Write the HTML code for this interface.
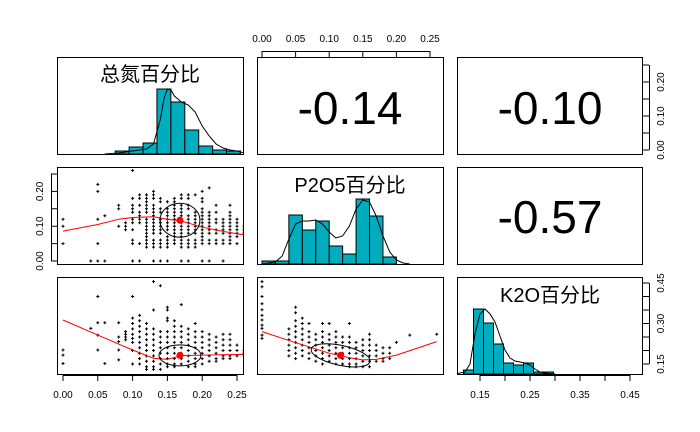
<!DOCTYPE html>
<html><head><meta charset="utf-8"><style>
html,body{margin:0;padding:0;background:#fff}
svg{display:block;font-family:"Liberation Sans","Noto Sans CJK SC",sans-serif}
</style></head><body>
<svg id="c" width="700" height="432" viewBox="0 0 700 432"></svg>
<script>
// ---------- data ----------
const varNames = ["总氮百分比","P2O5百分比","K2O百分比"];
const corrValues = ["-0.14","-0.10","-0.57"];
const nBreaks = [0.075,0.095,0.115,0.135,0.155,0.175,0.195,0.215,0.235,0.255];
const nCounts = [3,7,11,65,52,24,8,4,3];
const nDensX = [0.06,0.08,0.10,0.12,0.13,0.14,0.145,0.15,0.155,0.16,0.17,0.18,0.19,0.20,0.21,0.22,0.23,0.24,0.25,0.26];
const nDensY = [0,1,3,5,10,35,55,65,64,58,52,49,42,28,18,10,6,4,3,1];
const pBreaks = [0,0.02,0.04,0.06,0.08,0.10,0.12,0.14,0.16,0.18,0.20];
const pCounts = [3,3,49,34,43,18,10,65,48,7];
const pDensX = [0,0.02,0.03,0.04,0.05,0.06,0.07,0.08,0.09,0.10,0.11,0.12,0.13,0.14,0.15,0.16,0.17,0.18,0.19,0.20,0.21,0.22];
const pDensY = [0,2,8,25,40,43,43,44,40,32,26,28,38,55,64,62,48,28,12,4,1,0];
const kBreaks = [0.117,0.137,0.157,0.177,0.197,0.217,0.237,0.257,0.277,0.297];
const kCounts = [4,65,51,30,11,9,11,2,2];
const kDensX = [0.10,0.12,0.13,0.14,0.15,0.16,0.17,0.18,0.19,0.20,0.21,0.22,0.23,0.24,0.25,0.26,0.27,0.28,0.30];
const kDensY = [0,2,10,40,60,65,60,52,38,24,16,13,12,11,9,5,2,1,0];
const npCols = [
[0.00,[0.12,0.10,0.05]],[0.04,[0]],[0.05,[0.22,0.20,0.12,0.05,0]],[0.06,[0.13,0]],
[0.08,[0.16,0.15,0.10]],[0.09,[0.11,0.10,0.09]],
[0.10,[0.26,0.18,0.16,0.15,0.14,0.12,0.11,0.09,0.06,0.05,0]],
[0.11,[0.19,0.18,0.16,0.14,0.13,0.12,0.11,0.05,0]],
[0.12,[0.19,0.18,0.17,0.16,0.15,0.14,0.12,0.11,0.10,0.09,0.08,0.07,0.06,0.05,0.04]],
[0.13,[0.20,0.19,0.18,0.16,0.15,0.14,0.13,0.12,0.11,0.10,0.09,0.08,0.06,0.05,0.04,0]],
[0.14,[0.18,0.17,0.15,0.14,0.12,0.11,0.10,0.09,0.08,0.06,0.05,0.04,0]],
[0.15,[0.17,0.15,0.14,0.13,0.12,0.11,0.10,0.09,0.07,0.06,0.05,0.04,0]],
[0.16,[0.18,0.17,0.16,0.15,0.14,0.13,0.12,0.11,0.10,0.09,0.08,0.07,0.06,0.05]],
[0.17,[0.19,0.18,0.16,0.15,0.14,0.13,0.12,0.11,0.10,0.09,0.08,0.07,0.06,0.05,0.04,0]],
[0.18,[0.19,0.18,0.16,0.15,0.13,0.12,0.11,0.10,0.09,0.08,0.06,0.05,0.04,0]],
[0.19,[0.19,0.14,0.13,0.12,0.11,0.10,0.09,0.08,0.06,0.05,0.04]],
[0.20,[0.20,0.18,0.17,0.15,0.14,0.13,0.12,0.11,0.10,0.09,0.08,0.07,0.06,0.05,0]],
[0.21,[0.21,0.14,0.13,0.12,0.11,0.10,0.09,0.08,0.06,0.05,0]],
[0.22,[0.16,0.14,0.12,0.11,0.09,0.08,0.06,0.05]],
[0.23,[0.12,0.11,0.10,0.09,0.08,0.06,0.05,0]],
[0.24,[0.16,0.14,0.13,0.12,0.11,0.10,0.09,0.08,0.07,0.06,0.05]],
[0.25,[0.12,0.11,0.10,0.09,0.08,0.07,0.05]],[0.26,[0.10,0.09,0.08]]];
const npLoessX = [0,0.05,0.08,0.10,0.13,0.15,0.17,0.20,0.23,0.26];
const npLoessY = [0.086,0.105,0.12,0.125,0.127,0.12,0.115,0.097,0.085,0.075];
const npMean = [0.168,0.117];
const nkCols = [
[0.00,[0.202,0.183,0.152]],[0.04,[0.282]],[0.05,[0.40,0.303,0.257,0.202]],[0.06,[0.303,0.152]],
[0.08,[0.303,0.25,0.233,0.202,0.165]],[0.09,[0.27,0.26,0.25,0.24]],
[0.10,[0.40,0.32,0.30,0.28,0.26,0.245,0.23,0.20,0.15]],
[0.11,[0.33,0.31,0.29,0.27,0.25,0.23,0.21,0.19,0.17,0.15]],
[0.12,[0.30,0.28,0.26,0.24,0.22,0.20,0.18,0.16,0.14,0.13]],
[0.13,[0.455,0.35,0.28,0.26,0.24,0.22,0.20,0.18,0.16,0.14,0.13]],
[0.14,[0.44,0.27,0.25,0.23,0.21,0.19,0.17,0.15,0.13]],
[0.15,[0.36,0.35,0.32,0.31,0.27,0.25,0.23,0.21,0.19,0.17,0.15,0.14]],
[0.16,[0.31,0.29,0.27,0.25,0.23,0.21,0.19,0.17,0.15,0.14]],
[0.17,[0.37,0.29,0.27,0.25,0.23,0.21,0.19,0.17,0.15]],
[0.18,[0.28,0.26,0.24,0.22,0.20,0.18,0.16,0.14]],
[0.19,[0.30,0.27,0.25,0.23,0.21,0.19,0.17,0.15,0.14]],
[0.20,[0.27,0.25,0.23,0.21,0.19,0.17,0.15]],
[0.21,[0.26,0.24,0.22,0.20,0.18,0.16]],
[0.22,[0.25,0.23,0.21,0.19,0.17,0.16]],
[0.23,[0.26,0.24,0.22,0.20,0.18,0.17]],
[0.24,[0.26,0.24,0.22,0.20,0.18,0.17]],
[0.25,[0.22,0.20,0.18]],[0.26,[0.20,0.19,0.18]]];
const nkLoessX = [0,0.05,0.10,0.13,0.15,0.17,0.20,0.26];
const nkLoessY = [0.313,0.257,0.202,0.171,0.167,0.181,0.183,0.186];
const nkMean = [0.168,0.182];
const pkCols = [
[0.00,[0.455,0.436,0.40,0.373,0.351,0.33,0.313,0.294,0.282,0.257,0.245]],
[0.04,[0.28,0.26,0.24,0.22,0.20,0.18]],
[0.05,[0.36,0.34,0.31,0.29,0.27,0.25,0.23,0.21,0.19,0.17]],
[0.06,[0.32,0.30,0.28,0.26,0.24,0.22,0.20,0.18]],
[0.07,[0.30,0.27,0.25,0.23,0.21,0.19,0.17]],
[0.08,[0.26,0.24,0.22,0.20,0.18,0.16]],
[0.09,[0.30,0.27,0.25,0.23,0.21,0.19,0.17,0.15]],
[0.10,[0.30,0.26,0.24,0.22,0.20,0.18,0.16]],
[0.11,[0.27,0.25,0.23,0.21,0.19,0.17,0.15]],
[0.12,[0.25,0.23,0.21,0.19,0.17,0.15]],
[0.13,[0.30,0.25,0.23,0.21,0.19,0.17,0.15,0.14]],
[0.14,[0.23,0.21,0.19,0.17,0.15,0.14]],
[0.15,[0.24,0.22,0.20,0.18,0.16,0.14]],
[0.16,[0.26,0.24,0.22,0.20,0.18,0.16,0.14]],
[0.17,[0.22,0.20,0.18,0.16]],[0.18,[0.21,0.19,0.17,0.16]],
[0.19,[0.21,0.19,0.17]],[0.20,[0.23]],[0.22,[0.257]],[0.26,[0.26]]];
const pkLoessX = [0,0.05,0.10,0.13,0.15,0.17,0.20,0.26];
const pkLoessY = [0.27,0.229,0.19,0.173,0.165,0.167,0.183,0.233];
const pkMean = [0.117,0.182];
const nTicks = [0,0.05,0.10,0.15,0.20,0.25];
const nTickLabels = ["0.00","0.05","0.10","0.15","0.20","0.25"];
const kTicks = [0.15,0.20,0.25,0.30,0.35,0.40,0.45];
const kBottomLabels = ["0.15","0.25","0.35","0.45"];
const kRightLabels = ["0.15","0.30","0.45"];

const svg = document.getElementById('c');
const NS = 'http://www.w3.org/2000/svg';
function mk(tag, attrs, parent){const e=document.createElementNS(NS,tag);for(const k in attrs)e.setAttribute(k,attrs[k]);(parent||svg).appendChild(e);return e;}
const cols = [[57,243],[257,443],[457,642]];
const rows = [[57,154],[167,264],[277,374]];
const xN = v => 63 + 696*v;
const xP = v => 262 + 672*v;
const xK = v => 480 + (v-0.15)*500;
const yP = v => 261 - 348*v;
const yK = v => 364 - (v-0.15)*270;
const yNr = v => 150 - 340*v;

const defs = mk('defs',{});
for(let r=0;r<3;r++)for(let c=0;c<3;c++){
  const cp = mk('clipPath',{id:'cp'+r+c},defs);
  mk('rect',{x:cols[c][0],y:rows[r][0],width:cols[c][1]-cols[c][0],height:rows[r][1]-rows[r][0]},cp);
}

function hist(name, r, c, breaks, counts, xf, dx, dy){
  const g = mk('g',{'clip-path':'url(#cp'+r+c+')'});
  
  
  const base = rows[r][1];
  counts.forEach((n,i)=>{
    const x0 = xf(breaks[i]), x1 = xf(breaks[i+1]);
    const b = mk('rect',{x:x0,y:base-n,width:x1-x0,height:n,fill:'#00ADBF',stroke:'#000','stroke-width':1},g);
    
    
  });
  const d = dx.map((v,i)=>(i?'L':'M')+xf(v).toFixed(1)+' '+(base-dy[i]).toFixed(1)).join(' ');
  const l = mk('path',{d:d,fill:'none',stroke:'#000','stroke-width':1},g);
  
  
}

function scatter(name, r, c, colsData, xf, yf, lx, ly, mean, rx, ry, rot){
  const g = mk('g',{'clip-path':'url(#cp'+r+c+')'});
  
  
  let d='';
  colsData.forEach(([xv,ys])=>ys.forEach(yv=>{
    const x=xf(xv), y=yf(yv);
    d+=`M${(x-1.5).toFixed(1)} ${y.toFixed(1)}h3M${x.toFixed(1)} ${(y-1.5).toFixed(1)}v3`;
  }));
  const p = mk('path',{d:d,stroke:'#000','stroke-width':1,fill:'none'},g);
  
  
  const ld = lx.map((v,i)=>(i?'L':'M')+xf(v).toFixed(1)+' '+yf(ly[i]).toFixed(1)).join(' ');
  const lo = mk('path',{d:ld,stroke:'#f00','stroke-width':1,fill:'none'},g);
  
  
  const cx=xf(mean[0]), cy=yf(mean[1]);
  const el = mk('ellipse',{cx:cx,cy:cy,rx:rx,ry:ry,fill:'none',stroke:'#000','stroke-width':1,transform:`rotate(${rot} ${cx} ${cy})`},g);
  
  
  const m = mk('circle',{cx:cx,cy:cy,r:3.5,fill:'#f00'},g);
  
  
}

function txt(s, x, y, size, name, extra){
  const t = mk('text',Object.assign({x:x,y:y,'font-size':size,'text-anchor':'middle'},extra||{}));
  t.textContent = s;
  
  
  return t;
}

hist('hist-total-n',0,0,nBreaks,nCounts,xN,nDensX,nDensY);
hist('hist-p2o5',1,1,pBreaks,pCounts,xP,pDensX,pDensY);
hist('hist-k2o',2,2,kBreaks,kCounts,xK,kDensX,kDensY);
scatter('scatter-n-vs-p',1,0,npCols,xN,yP,npLoessX,npLoessY,npMean,20,17,0);
scatter('scatter-n-vs-k',2,0,nkCols,xN,yK,nkLoessX,nkLoessY,nkMean,21,10.5,0);
scatter('scatter-p-vs-k',2,1,pkCols,xP,yK,pkLoessX,pkLoessY,pkMean,30,10,12);

for(let r=0;r<3;r++)for(let c=0;c<3;c++){
  const f = mk('rect',{x:cols[c][0]+0.5,y:rows[r][0]+0.5,width:cols[c][1]-cols[c][0],height:rows[r][1]-rows[r][0],fill:'none',stroke:'#000','stroke-width':1});
  
  
}

txt(varNames[0],150,81,20,'label-total-n');
txt(varNames[1],350,192,20,'label-p2o5');
txt(varNames[2],550,302,20,'label-k2o');
txt(corrValues[0],350,124,46,'corr-n-p2o5');
txt(corrValues[1],550,124,46,'corr-n-k2o');
txt(corrValues[2],550,233,46,'corr-p2o5-k2o');

function axisLine(d,name){const a=mk('path',{d:d,stroke:'#000','stroke-width':1,fill:'none'});}
let d=`M${xN(0)} 375.5H${xN(0.25)}`; nTicks.forEach(v=>d+=`M${xN(v).toFixed(1)} 375V381`);
axisLine(d,'x-axis-total-n');
nTicks.forEach((v,i)=>txt(nTickLabels[i],xN(v),398,10,'x-tick-label'));
d=`M${xP(0)} 51.5H${xP(0.25)}`; nTicks.forEach(v=>d+=`M${xP(v).toFixed(1)} 51V57`);
axisLine(d,'x-axis-p2o5');
nTicks.forEach((v,i)=>txt(nTickLabels[i],xP(v),42,10,'x-tick-label-top'));
d=`M${xK(0.15)} 375.5H${xK(0.45)}`; kTicks.forEach(v=>d+=`M${xK(v).toFixed(1)} 375V381`);
axisLine(d,'x-axis-k2o');
kBottomLabels.forEach(s=>txt(s,xK(parseFloat(s)),398,10,'x-tick-label'));
d=`M51.5 ${yP(0)}V${yP(0.25)}`; nTicks.forEach(v=>d+=`M51 ${yP(v).toFixed(1)}H57`);
axisLine(d,'y-axis-p2o5');
[0,2,4].forEach(i=>{const y=yP(nTicks[i]);txt(nTickLabels[i],43,y,10,'y-tick-label',{transform:`rotate(-90 43 ${y})`});});
d=`M649.5 ${yNr(0)}V${yNr(0.25)}`; nTicks.forEach(v=>d+=`M643 ${yNr(v).toFixed(1)}H649`);
axisLine(d,'y-axis-right-total-n');
[0,2,4].forEach(i=>{const y=yNr(nTicks[i]);txt(nTickLabels[i],664,y,10,'y-tick-label-right',{transform:`rotate(-90 664 ${y})`});});
d=`M649.5 ${yK(0.15)}V${yK(0.45)}`; kTicks.forEach(v=>d+=`M643 ${yK(v).toFixed(1)}H649`);
axisLine(d,'y-axis-right-k2o');
kRightLabels.forEach(s=>{const y=yK(parseFloat(s));txt(s,664,y,10,'y-tick-label-right',{transform:`rotate(-90 664 ${y})`});});
</script>
</body></html>
